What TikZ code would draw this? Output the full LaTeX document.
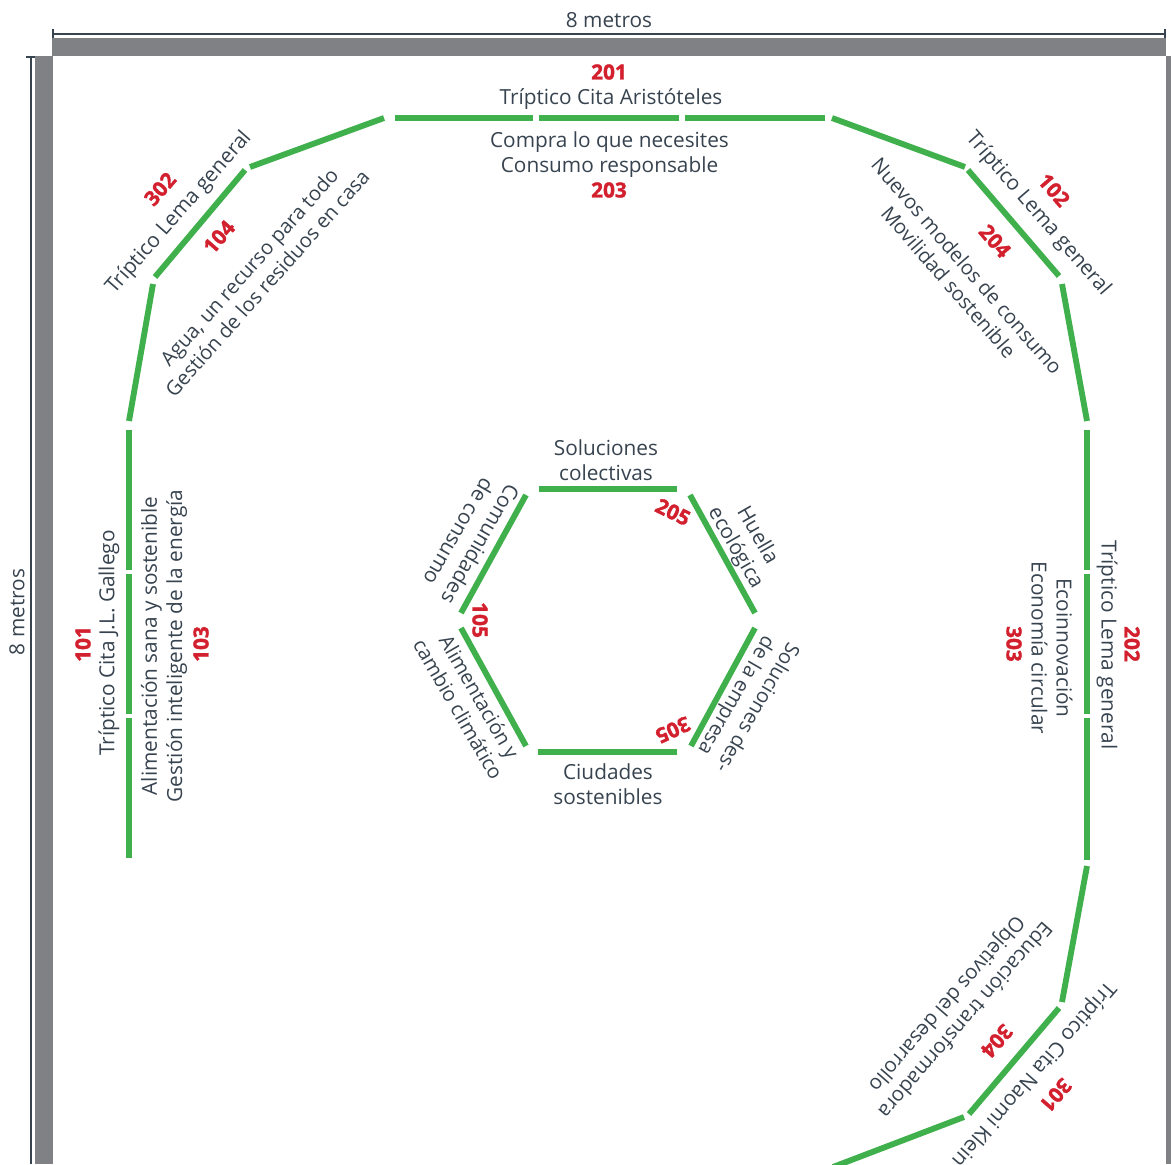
\documentclass[tikz,border=0pt]{standalone}
\usepackage{fontspec}
\setmainfont[BoldFeatures={FakeBold=1.6}]{Open Sans}
\definecolor{wallgrey}{HTML}{808184}
\definecolor{panelgreen}{HTML}{3FB04C}
\definecolor{labelink}{HTML}{37434F}
\definecolor{coderd}{HTML}{D2202E}
\tikzset{
  panel/.style={draw=panelgreen,line width=4.4pt},
  wall/.style={fill=wallgrey,draw=none},
  dimline/.style={draw=labelink,line width=1.4pt},
  lab/.style={text=labelink,font=\fontsize{15.6pt}{18.8pt}\selectfont,align=center,inner sep=0pt},
  code/.style={text=coderd,font=\fontsize{15.6pt}{18pt}\selectfont\bfseries,inner sep=0pt},
}
\begin{document}
\begin{tikzpicture}[x=0.75pt,y=-0.75pt]
\useasboundingbox (0,0) rectangle (1171,1164);
% walls
\fill[wall] (52,38) rectangle (1166,56);
\fill[wall] (35,56) rectangle (53,1164);
\fill[wall] (1166,56) rectangle (1171,1164);
% dimensions
\coordinate (th1) at (53,34); \coordinate (th2) at (1165,34);
\coordinate (tv1) at (31,57); \coordinate (tv2) at (31,1164);
\draw[dimline] (th1) -- (th2);
\draw[dimline] (53,29) -- (53,38);
\draw[dimline] (1165,29) -- (1165,38);
\draw[dimline] (tv1) -- (tv2);
\draw[dimline] (26,57) -- (35,57);
\node[lab] (dimtop) at (609,20) {8 metros};
\node[lab,rotate=90] (dimleft) at (17,612) {8 metros};
% outer panels
\draw[panel] (395,118) -- (533,118);
\draw[panel] (539,118) -- (679,118);
\draw[panel] (685,118) -- (825,118);
\draw[panel] (832,118) -- (965,167);
\draw[panel] (968,170) -- (1059,276);
\draw[panel] (1062,284) -- (1087,421);
\draw[panel] (1087,430) -- (1087,570);
\draw[panel] (1087,574) -- (1087,714);
\draw[panel] (1087,718) -- (1087,860);
\draw[panel] (1087,866) -- (1062,1002);
\draw[panel] (1059,1008) -- (969,1114);
\draw[panel] (964,1117) -- (833,1167);
\draw[panel] (384,118) -- (250,167);
\draw[panel] (245,170) -- (155,277);
\draw[panel] (153,284) -- (129,421);
\draw[panel] (129,430) -- (129,570);
\draw[panel] (129,574) -- (129,714);
\draw[panel] (129,718) -- (129,858);
% inner hexagon
\draw[panel] (539,489) -- (677,489);
\draw[panel] (690,495) -- (755,613);
\draw[panel] (755,628) -- (691,746);
\draw[panel] (677,752) -- (538,752);
\draw[panel] (526,746) -- (461,628);
\draw[panel] (461,613) -- (526,495);
% top labels
\node[code] (c201) at (609,72) {201};
\node[lab] (l201) at (611,99) {Tríptico Cita Aristóteles};
\node[lab] (l203) at (609.5,155) {Compra lo que necesites\\Consumo responsable};
\node[code] (c203) at (609,190) {203};
% upper left
\node[code,rotate=49] (c302) at (160,189) {302};
\node[lab,rotate=48.7] (l302) at (179,213) {Tríptico Lema general};
\node[code,rotate=49] (c104) at (219,237) {104};
\node[lab,rotate=48.3,scale=.97] (l104) at (258,275) {Agua, un recurso para todo\\Gestión de los residuos en casa};
% upper right
\node[code,rotate=-49] (c102) at (1054,190) {102};
\node[lab,rotate=-49] (l102) at (1038,214) {Tríptico Lema general};
\node[code,rotate=-49] (c204) at (995,241) {204};
\node[lab,rotate=-49,scale=.97] (l204) at (958,274) {Nuevos modelos de consumo\\Movilidad sostenible};
% left
\node[lab,rotate=90] (l101) at (109,643) {Tríptico Cita J.L. Gallego};
\node[code,rotate=90] (c101) at (83,644) {101};
\node[lab,rotate=90] (l103) at (164,646) {Alimentación sana y sostenible\\Gestión inteligente de la energía};
\node[code,rotate=90] (c103) at (201,644) {103};
% right
\node[lab,rotate=-90] (l202) at (1107,645) {Tríptico Lema general};
\node[code,rotate=-90] (c202) at (1132,644) {202};
\node[lab,rotate=-90] (l303) at (1052,648) {Ecoinnovación\\Economía circular};
\node[code,rotate=-90] (c303) at (1014,644) {303};
% lower right
\node[lab,rotate=229] (l301) at (1033,1074) {Tríptico Cita Naomi Klein};
\node[code,rotate=229] (c301) at (1056,1095) {301};
\node[code,rotate=229] (c304) at (997,1041) {304};
\node[lab,rotate=229,scale=.98] (l304) at (955,1011) {Educación transformadora\\Objetivos del desarrollo};
% hexagon labels
\node[lab] (h1) at (606,460) {Soluciones\\colectivas};
\node[lab] (h4) at (608,784) {Ciudades\\sostenibles};
\node[lab,rotate=-60] (h2) at (746,542) {Huella\\ecológica};
\node[lab,rotate=240,scale=.97] (h3) at (746,701) {Soluciones des-\\de la empresa};
\node[lab,rotate=240] (h5) at (470,538) {Comunidades\\de consumo};
\node[lab,rotate=-60,scale=.97] (h6) at (469,703) {Alimentación y\\cambio climático};
\node[code,rotate=-26] (c205) at (673,512) {205};
\node[code,rotate=205] (c305) at (673,730) {305};
\node[code,rotate=-90] (c105) at (480,620) {105};
\end{tikzpicture}
\end{document}
